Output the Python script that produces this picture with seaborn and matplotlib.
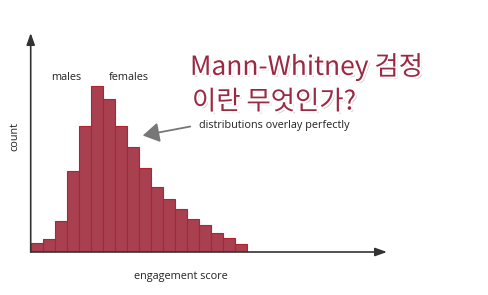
import numpy as np
import pandas as pd
import matplotlib
matplotlib.use("Agg")
import matplotlib.pyplot as plt
import matplotlib.patheffects as pe
import seaborn as sns

# data
bin_index = list(range(18))
counts = [28, 40, 94, 244, 378, 498, 458, 378, 316, 252, 196, 160, 130, 100, 82, 58, 43, 24]
group_labels = ["males", "females"]
x_label = "engagement score"
y_label = "count"
annotation = "distributions overlay perfectly"
title_lines = ["Mann-Whitney 검정", "이란 무엇인가?"]

sns.set_style("white")
plt.rcParams['font.family'] = ['Open Sans', 'DejaVu Sans']

W, H = 489, 295
fig = plt.figure(figsize=(W / 100, H / 100), dpi=100)
fig.patch.set_facecolor("white")

x0, y0 = 30.7, 252.0
x1, y1 = 387.0, 33.0
ax = fig.add_axes([x0 / W, 1 - y0 / H, (x1 - x0) / W, (y0 - y1) / H])

df = pd.DataFrame({"bin": [b + 0.5 for b in bin_index], "count": counts})
sns.histplot(data=df, x="bin", weights="count", binwidth=1, binrange=(0, 18),
             color="#a8404f", edgecolor="#b5222e", linewidth=0.8, alpha=1,
             ax=ax)
ax.set_xlim(0, (x1 - x0) / 12.0)
ax.set_ylim(0, 3 * (y0 - y1))
for s in ax.spines.values():
    s.set_visible(False)
ax.set_xticks([])
ax.set_yticks([])
ax.set_xlabel("")
ax.set_ylabel("")
ax.patch.set_alpha(0)

arrow_kw = dict(arrowstyle="-|>,head_length=0.7,head_width=0.25", color="#333333", lw=1.2,
                shrinkA=0, shrinkB=0)
ax.annotate("", xy=(0, 1), xytext=(0, 0), xycoords="axes fraction", arrowprops=arrow_kw,
            annotation_clip=False)
ax.annotate("", xy=(1, 0), xytext=(0, 0), xycoords="axes fraction", arrowprops=arrow_kw,
            annotation_clip=False)

def ft(x, y, s, **kw):
    return fig.text(x / W, 1 - y / H, s, **kw)

fs = 7.8
ft(66, 77, group_labels[0], ha="center", va="center", fontsize=fs, color="#222222")
ft(129, 77, group_labels[1], ha="center", va="center", fontsize=fs, color="#222222")
ft(181, 276, x_label, ha="center", va="center", fontsize=fs, color="#222222")
ft(15, 136, y_label, ha="center", va="center", rotation=90, fontsize=fs, color="#222222")
ft(199, 126, annotation, ha="left", va="center", fontsize=fs, color="#222222")

fig.add_artist(matplotlib.patches.FancyArrowPatch(
    posA=(193 / W, 1 - 126 / H), posB=(140 / W, 1 - 136 / H), transform=fig.transFigure,
    arrowstyle="-|>,head_length=5,head_width=3", color="#777777", lw=1.3,
    mutation_scale=2))

effects = [pe.withSimplePatchShadow(offset=(1.5, -1.5), shadow_rgbFace="#bbbbbb", alpha=0.8),
           pe.withStroke(linewidth=3, foreground="white")]
ft(190, 67, title_lines[0], ha="left", va="center", fontsize=19, color="#9a2a44",
   family=["Noto Sans CJK KR", "DejaVu Sans"], path_effects=effects)
ft(192, 102, title_lines[1], ha="left", va="center", fontsize=19, color="#9a2a44",
   family=["Noto Sans CJK KR", "DejaVu Sans"], path_effects=effects)

fig.savefig("out.png", dpi=100, facecolor="white")
